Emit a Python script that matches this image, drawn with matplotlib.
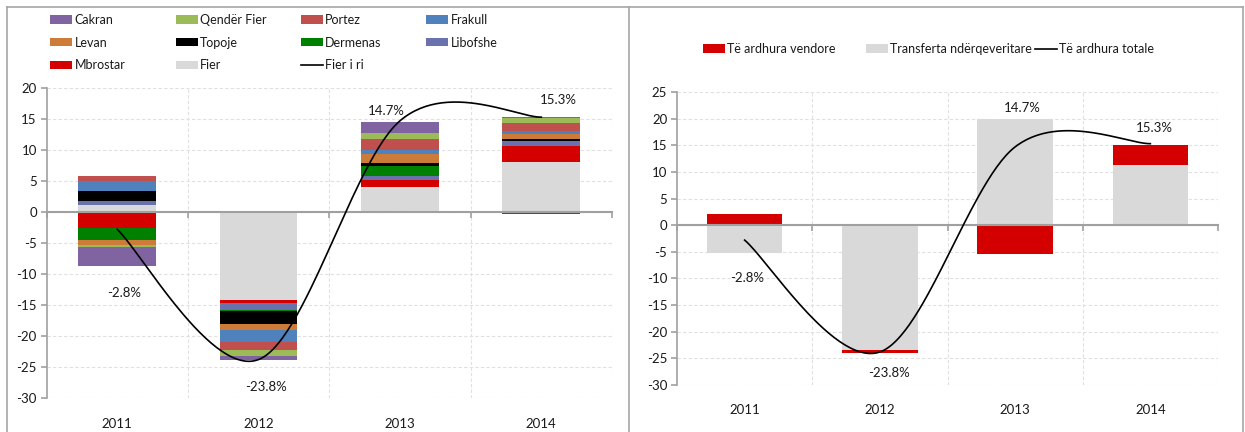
import numpy as np
import matplotlib
matplotlib.use("Agg")
import matplotlib.pyplot as plt
from matplotlib.patches import Patch
from matplotlib.lines import Line2D

plt.rcParams['font.family'] = ['Lato', 'DejaVu Sans']
plt.rcParams['font.size'] = 9
plt.rcParams['axes.unicode_minus'] = False
plt.rcParams['text.color'] = '#1A1A1A'

years = ["2011", "2012", "2013", "2014"]

# contributions by commune, in stacking order (Fier at the base)
fier      = [1.20, -14.25, 4.10, 8.10]
mbrostar  = [-2.50, -0.37, 1.07, 2.57]
libofshe  = [0.65, -1.13, 0.70, 0.75]
dermenas  = [-2.05, -0.20, 1.60, -0.25]
topoje    = [1.50, -2.05, 0.43, 0.32]
levan     = [-0.75, -1.00, 1.45, 0.90]
frakull   = [1.60, -2.00, 0.70, 0.48]
portez    = [0.85, -1.30, 1.72, 1.28]
qender    = [-0.30, -0.97, 0.97, 0.70]
cakran    = [-3.05, -0.65, 1.72, 0.27]
fier_i_ri = [-2.8, -23.8, 14.7, 15.3]

# revenue split
vendore    = [2.1, -0.5, -5.5, 3.8]
transferta = [-5.3, -23.45, 20.0, 11.3]
totale     = [-2.8, -23.8, 14.7, 15.3]

communes = [
    ("Fier", fier, "#D9D9D9"),
    ("Mbrostar", mbrostar, "#D40000"),
    ("Libofshe", libofshe, "#6A72AE"),
    ("Dermenas", dermenas, "#008000"),
    ("Topoje", topoje, "#000000"),
    ("Levan", levan, "#CD7B38"),
    ("Frakull", frakull, "#4F81BD"),
    ("Portez", portez, "#C0504D"),
    ("Qendër Fier", qender, "#9BBB59"),
    ("Cakran", cakran, "#8064A2"),
]

GRID = "#E0E0E0"
AXC = "#A0A0A0"
W, H = 1245, 432


def smooth(vals, n=60):
    # Catmull-Rom style bezier through the points, like a spreadsheet "smoothed line"
    pts = np.column_stack([np.arange(len(vals)), np.asarray(vals, float)])
    xs, ys = [], []
    for i in range(len(pts) - 1):
        p0 = pts[i]
        p1 = pts[i + 1]
        prev = pts[i - 1] if i > 0 else p0
        nxt = pts[i + 2] if i + 2 < len(pts) else p1
        c1 = p0 + (p1 - prev) / 6.0
        c2 = p1 - (nxt - p0) / 6.0
        t = np.linspace(0, 1, n)[:, None]
        b = (1 - t) ** 3 * p0 + 3 * (1 - t) ** 2 * t * c1 + 3 * (1 - t) * t ** 2 * c2 + t ** 3 * p1
        xs.extend(b[:, 0])
        ys.extend(b[:, 1])
    return np.array(xs), np.array(ys)


def style_axes(ax, ymin, ymax, label_off):
    x = np.arange(len(years))
    ax.set_xlim(-0.5, len(years) - 0.5)
    ax.set_ylim(ymin, ymax)
    ax.set_yticks(np.arange(ymin, ymax + 1, 5))
    ax.yaxis.grid(True, color=GRID, linestyle=(0, (3, 2)), linewidth=0.8)
    for b in np.arange(0.5, len(years), 1.0):
        ax.axvline(b, color=GRID, linestyle=(0, (3, 2)), linewidth=0.8, zorder=0)
    ax.set_axisbelow(True)
    for s in ["top", "right"]:
        ax.spines[s].set_visible(False)
    ax.spines["left"].set_color(AXC)
    ax.spines["left"].set_linewidth(1.2)
    ax.spines["bottom"].set_position(("data", 0))
    ax.spines["bottom"].set_color(AXC)
    ax.spines["bottom"].set_linewidth(1.5)
    ax.spines["bottom"].set_zorder(4)
    ax.set_xticks([])
    ax.set_xticks(np.arange(-0.5, len(years), 1.0), minor=True)
    ax.tick_params(axis="x", which="minor", direction="out", length=4, color=AXC, width=1.2)
    ax.tick_params(axis="y", direction="out", length=4, color=AXC, width=1.2,
                   labelsize=9.5, pad=3, labelcolor="#1A1A1A")
    for xi, yr in zip(x, years):
        ax.text(xi, label_off, yr, transform=ax.get_xaxis_transform(),
                ha="center", va="center", fontsize=9.5)


def legend_column(fig, hs, labels, x_px, y_px):
    fig.legend(hs, labels, loc="upper left", bbox_to_anchor=(x_px / W, 1 - y_px / H),
               frameon=False, fontsize=9, handlelength=1.75, handleheight=0.65,
               handletextpad=0.2, labelspacing=0.85, borderaxespad=0, borderpad=0)


fig = plt.figure(figsize=(12.45, 4.32), dpi=100)

# ---- left: contribution by commune
ax1 = fig.add_axes([46.5 / W, 1 - 398 / H, (612 - 46.5) / W, 310 / H])
x = np.arange(len(years))
pos_base = np.zeros(len(years))
neg_base = np.zeros(len(years))
handles = {}
for name, vals, col in communes:
    v = np.asarray(vals)
    base = np.where(v >= 0, pos_base, neg_base)
    ax1.bar(x, v, 0.55, bottom=base, color=col, edgecolor="none", zorder=2)
    pos_base = pos_base + np.clip(v, 0, None)
    neg_base = neg_base + np.clip(v, None, 0)
    handles[name] = Patch(facecolor=col, edgecolor="none")
sx, sy = smooth(fier_i_ri)
ax1.plot(sx, sy, color="black", linewidth=1.2, zorder=5)
handles["Fier i ri"] = Line2D([], [], color="black", linewidth=1.2)
style_axes(ax1, -30, 20, -0.085)

lab1_x = [0.05, 1.05, 1.9, 3.12]
lab1_y = [-13.0, -28.2, 16.3, 18.1]
for xi, yi, v in zip(lab1_x, lab1_y, fier_i_ri):
    ax1.text(xi, yi, f"{v:.1f}%", ha="center", va="center", fontsize=9.5)

legend_rows = [["Cakran", "Qendër Fier", "Portez", "Frakull"],
               ["Levan", "Topoje", "Dermenas", "Libofshe"],
               ["Mbrostar", "Fier", "Fier i ri"]]
col_x = [50, 176, 301, 426]
for c, cx in enumerate(col_x):
    names = [r[c] for r in legend_rows if c < len(r)]
    legend_column(fig, [handles[k] for k in names], names, cx, 14)

# ---- right: local revenue vs transfers
ax2 = fig.add_axes([677 / W, 1 - 385 / H, (1218 - 677) / W, 293 / H])
pos_base = np.zeros(len(years))
neg_base = np.zeros(len(years))
for vals, col, lab in [(transferta, "#D9D9D9", "Transferta ndërqeveritare"),
                       (vendore, "#D40000", "Të ardhura vendore")]:
    v = np.asarray(vals)
    base = np.where(v >= 0, pos_base, neg_base)
    ax2.bar(x, v, 0.56, bottom=base, color=col, edgecolor="none", zorder=2, label=lab)
    pos_base = pos_base + np.clip(v, 0, None)
    neg_base = neg_base + np.clip(v, None, 0)
sx, sy = smooth(totale)
ax2.plot(sx, sy, color="black", linewidth=1.2, zorder=5, label="Të ardhura totale")
style_axes(ax2, -30, 25, -0.085)

lab2_x = [0.02, 1.07, 2.05, 3.03]
lab2_y = [-10.0, -27.7, 22.0, 18.3]
for xi, yi, v in zip(lab2_x, lab2_y, totale):
    ax2.text(xi, yi, f"{v:.1f}%", ha="center", va="center", fontsize=9.5)

h, l = ax2.get_legend_handles_labels()
lmap = dict(zip(l, h))
lorder = ["Të ardhura vendore", "Transferta ndërqeveritare", "Të ardhura totale"]
for k, cx in zip(lorder, [703, 866, 1035]):
    legend_column(fig, [lmap[k]], [k], cx, 43)

# panel frames
fc = "#A6A6A6"
top = 1 - 7 / H
fig.add_artist(Line2D([7 / W, 1243 / W], [top, top], color=fc, linewidth=1.2))
fig.add_artist(Line2D([7 / W, 7 / W], [0, top], color=fc, linewidth=1.2))
fig.add_artist(Line2D([629 / W, 629 / W], [0, top], color=fc, linewidth=1.2))
fig.add_artist(Line2D([1243 / W, 1243 / W], [0, top], color=fc, linewidth=1.2))

fig.savefig("out.png", dpi=100)
